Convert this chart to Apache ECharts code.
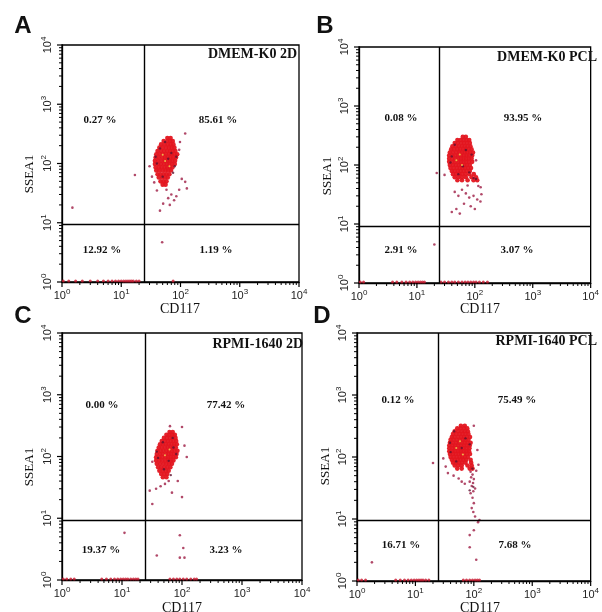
<!DOCTYPE html>
<html><head><meta charset="utf-8">
<script src="https://cdn.jsdelivr.net/npm/echarts@6/dist/echarts.min.js"></script>
<style>html,body{margin:0;padding:0;background:#fff}#c{width:602px;height:612px}</style>
</head><body><div id="c"></div>
<script>
// ---------------- data ----------------
const panelLetters = ['A', 'B', 'C', 'D'];
const panelTitles = ['DMEM-K0 2D', 'DMEM-K0 PCL', 'RPMI-1640 2D', 'RPMI-1640 PCL'];
const xAxisName = 'CD117';
const yAxisName = 'SSEA1';
const majorTicks = [1, 10, 100, 1000, 10000];

// quadrant percentages: [upper-left, upper-right, lower-left, lower-right]
const quadPctA = ['0.27 %', '85.61 %', '12.92 %', '1.19 %'];
const quadPctB = ['0.08 %', '93.95 %', '2.91 %', '3.07 %'];
const quadPctC = ['0.00 %', '77.42 %', '19.37 %', '3.23 %'];
const quadPctD = ['0.12 %', '75.49 %', '16.71 %', '7.68 %'];

// quadrant gates [CD117, SSEA1]
const gateA = [24.2, 9.5];
const gateB = [24.4, 9.0];
const gateC = [24.2, 9.4];
const gateD = [24.8, 9.6];

// dense event clusters: rows of [SSEA1 value, [CD117 values]]
const clusterA = [
  [270, [60, 68]], [240, [52, 60, 67, 74]], [210, [47, 54, 61, 68, 76]],
  [185, [44, 50, 57, 64, 71, 79]], [162, [41, 47, 53, 60, 67, 74, 82]],
  [143, [39, 45, 51, 57, 64, 71, 79, 88]], [126, [38, 43, 49, 55, 61, 68, 75, 84]],
  [111, [37, 42, 48, 54, 60, 66, 73, 81]], [98, [37, 42, 47, 53, 59, 65, 72, 80]],
  [86, [38, 43, 48, 54, 60, 66, 73]], [76, [39, 44, 50, 56, 62, 69]],
  [66, [41, 46, 52, 58, 65]], [58, [43, 49, 55, 61]], [50, [46, 52, 58]], [44, [50, 56]]
];
const clusterB = [
  [300, [62, 70]], [265, [50, 57, 64, 72, 80]], [235, [45, 51, 58, 65, 73, 82]],
  [208, [41, 47, 53, 60, 67, 75, 84]], [184, [39, 44, 50, 56, 63, 70, 78, 88]],
  [163, [37, 42, 48, 54, 60, 67, 74, 83, 93]], [145, [36, 41, 46, 52, 58, 65, 72, 80, 90]],
  [128, [36, 41, 46, 52, 58, 64, 71, 79, 88]], [113, [36, 41, 46, 52, 58, 64, 71, 79, 90]],
  [100, [37, 42, 47, 53, 59, 66, 73, 82]], [89, [38, 43, 49, 55, 61, 68, 76, 86]],
  [79, [40, 45, 51, 57, 64, 72, 82]], [70, [42, 48, 54, 61, 69, 80, 96]],
  [62, [45, 52, 60, 70, 88, 105]], [55, [50, 60, 75, 95, 110]]
];
const clusterC = [
  [250, [62, 70]], [225, [55, 62, 69, 76]], [200, [50, 56, 63, 70, 78]],
  [178, [46, 52, 58, 65, 72, 80]], [158, [43, 48, 54, 60, 67, 74, 82]],
  [140, [41, 46, 52, 58, 64, 71, 79]], [124, [39, 44, 49, 55, 61, 68, 75, 84]],
  [110, [38, 43, 48, 54, 60, 66, 73, 81]], [97, [37, 42, 47, 53, 59, 65, 72, 79]],
  [86, [37, 42, 47, 53, 59, 65, 72]], [76, [38, 43, 49, 55, 61, 68]],
  [67, [40, 45, 51, 57, 64]], [59, [42, 48, 54, 60]], [52, [45, 51, 57]], [46, [48, 55]]
];
const clusterD = [
  [320, [60, 70]], [290, [52, 60, 68, 77]], [260, [47, 54, 62, 70, 79]],
  [234, [44, 50, 57, 64, 72, 81]], [210, [42, 47, 54, 61, 68, 76, 86]],
  [189, [40, 45, 51, 58, 65, 72, 81]], [170, [39, 44, 50, 56, 63, 70, 78, 88]],
  [153, [38, 43, 48, 54, 61, 68, 76, 85]], [138, [38, 43, 48, 54, 60, 67, 75, 84]],
  [124, [38, 43, 48, 54, 60, 67, 75, 83]], [112, [39, 44, 49, 55, 61, 68, 76, 86]],
  [100, [40, 45, 51, 57, 63, 70, 79]], [90, [42, 47, 53, 59, 66, 74, 88]],
  [81, [44, 50, 56, 63, 72, 90]], [73, [47, 54, 62, 78, 92]], [65, [52, 62, 85, 95]]
];

// sparse events [CD117, SSEA1]
const outliersA = [[120, 320], [120, 49], [128, 38], [51, 21], [45, 16], [66, 20], [17, 64], [1.5, 18],
  [49, 4.7], [33, 60], [36, 48], [40, 35], [58, 36], [70, 30], [62, 26], [78, 24], [95, 36], [105, 55],
  [98, 230], [30, 90], [95, 170], [85, 28]];
const outliersB = [[30, 68], [22, 73], [126, 42], [115, 44], [45, 35], [52, 30], [60, 38], [70, 33],
  [80, 28], [95, 30], [110, 26], [125, 24], [65, 22], [85, 20], [100, 18], [48, 18], [40, 16], [55, 15],
  [75, 45], [130, 32], [105, 120], [20, 4.5]];
const outliersC = [[100, 300], [63, 310], [120, 98], [32, 82], [29, 28], [37, 30], [44, 33], [52, 36],
  [68, 26], [100, 22], [32, 17], [11, 5.8], [92, 5.3], [105, 3.3], [92, 2.3], [110, 2.3], [38, 2.5],
  [110, 150], [85, 40], [60, 40]];
const outliersD = [[30, 95], [33, 70], [36, 55], [45, 50], [55, 45], [62, 40], [70, 37], [110, 60],
  [120, 75], [115, 130], [100, 320], [20, 80], [118, 8.9], [85, 5.5], [85, 3.5], [100, 6.6],
  [110, 2.2], [125, 9.6], [1.8, 2], [88, 58], [95, 52], [90, 47], [100, 44], [85, 40], [97, 38],
  [92, 34], [105, 31], [98, 28], [88, 26], [95, 22], [100, 18], [92, 15], [98, 13], [105, 11]];

// darker / pale specks inside the clusters [CD117, SSEA1]
const specksA = [[40, 100], [70, 150], [50, 60], [80, 90], [45, 180], [62, 120], [75, 70], [38, 130], [55, 230], [85, 130]];
const specksB = [[38, 110], [70, 180], [52, 70], [88, 150], [45, 220], [62, 95], [95, 60], [40, 140], [105, 58], [80, 75]];
const specksC = [[40, 95], [72, 140], [50, 62], [80, 110], [48, 170], [60, 85], [70, 200], [38, 120], [65, 50]];
const specksD = [[40, 120], [72, 200], [50, 85], [85, 160], [46, 260], [62, 140], [95, 65], [39, 170], [98, 33], [85, 29]];
const highlightA = [[55, 110], [65, 90], [50, 140]];
const highlightB = [[48, 120], [60, 100], [55, 150]];
const highlightC = [[52, 105], [62, 130]];
const highlightD = [[50, 140], [65, 110], [58, 180]];

// events piled up on the lower axis (SSEA1 at minimum): CD117 values
const baselineA = [1.05, 1.3, 1.7, 2.2, 3, 4, 5, 6, 7, 8, 9, 10, 11, 12, 13, 14, 15, 16, 18, 20, 75];
const baselineB = [1.05, 1.2, 3.8, 4.5, 5.5, 6.5, 7.5, 8.5, 9.5, 10.5, 11.5, 12.5, 13.5, 26, 30, 35, 40, 45, 52, 60, 68, 76, 85, 95, 105, 120, 140, 165];
const baselineC = [1.05, 1.2, 1.4, 1.6, 4.6, 5.5, 6.5, 7.5, 8.5, 9.5, 10.5, 11.5, 12.5, 14, 15.5, 17, 18.5, 63, 72, 82, 92, 105, 120, 140, 160, 175];
const baselineD = [1.05, 1.2, 1.4, 4.6, 5.5, 6.5, 7.5, 8.5, 9.5, 10.5, 11.5, 12.5, 13.5, 15, 17, 66, 75, 85, 95, 105, 115, 125];

// ---------------- layout ----------------
const layout = {
  grids: [
    { left: 62, top: 45, width: 237, height: 237 },
    { left: 359, top: 47, width: 240, height: 236 },
    { left: 62, top: 333, width: 240, height: 247 },
    { left: 357, top: 333, width: 241, height: 248 }
  ],
  letters: [[23, 26], [325, 26], [23, 316], [322, 316]],
  titles: [[297, 54], [597, 57], [303, 344], [597, 341]],
  pct: [
    [[100, 120], [218, 120], [102, 250], [216, 250]],
    [[401, 118], [523, 118], [401, 250], [517, 250]],
    [[102, 405], [226, 405], [101, 550], [226, 550]],
    [[398, 400], [517, 400], [401, 545], [515, 545]]
  ],
  xName: [[180, 309], [480, 309], [182, 608], [480, 608]],
  yName: [[30, 174], [328, 176], [30, 467], [326, 466]]
};

const panels = [
  { pct: quadPctA, gate: gateA, cluster: clusterA, outliers: outliersA, specks: specksA, hi: highlightA, base: baselineA },
  { pct: quadPctB, gate: gateB, cluster: clusterB, outliers: outliersB, specks: specksB, hi: highlightB, base: baselineB },
  { pct: quadPctC, gate: gateC, cluster: clusterC, outliers: outliersC, specks: specksC, hi: highlightC, base: baselineC },
  { pct: quadPctD, gate: gateD, cluster: clusterD, outliers: outliersD, specks: specksD, hi: highlightD, base: baselineD }
];

// axis tick values (decades and their 2..9 subdivisions), flagged major / minor
const tickMarks = majorTicks.map(v => [v, 1]);
[1, 10, 100, 1000].forEach(d => { for (let k = 2; k <= 9; k++) tickMarks.push([k * d, 0]); });

const labelRich = {
  b: { fontSize: 11, fontFamily: 'Liberation Sans', color: '#222', lineHeight: 16 },
  s: { fontSize: 8, fontFamily: 'Liberation Sans', color: '#222', lineHeight: 9, verticalAlign: 'top' }
};
const fmt = v => '{b|10}{s|' + Math.round(Math.log10(v)) + '}';

const xAxes = [], yAxes = [], series = [], graphics = [];
panels.forEach((p, i) => {
  const common = { type: 'log', logBase: 10, min: 1, max: 10000, gridIndex: i, splitLine: { show: false } };
  xAxes.push(Object.assign({}, common, {
    position: 'bottom',
    axisLine: { show: true, lineStyle: { color: '#000', width: 1.3 } },
    axisTick: { show: false },
    axisLabel: { show: true, margin: 6, formatter: fmt, rich: labelRich, showMinLabel: true, showMaxLabel: true }
  }));
  yAxes.push(Object.assign({}, common, {
    position: 'left',
    axisLine: { show: true, lineStyle: { color: '#000', width: 1.3 } },
    axisTick: { show: false },
    axisLabel: { show: true, margin: 6, rotate: 90, formatter: fmt, rich: labelRich, showMinLabel: true, showMaxLabel: true }
  }));

  const ax = { xAxisIndex: i, yAxisIndex: i, clip: false, silent: true, animation: false };

  // tick marks drawn through the axes' own log scale
  series.push(Object.assign({}, ax, {
    type: 'custom', data: tickMarks, z: 5,
    renderItem: (params, api) => {
      const v = api.value(0), major = api.value(1) === 1;
      const len = major ? 5 : 3;
      const px = api.coord([v, 1]);
      const py = api.coord([1, v]);
      return { type: 'group', children: [
        { type: 'line', shape: { x1: px[0], y1: px[1], x2: px[0], y2: px[1] + len }, style: { stroke: '#000', lineWidth: major ? 1.2 : 1 } },
        { type: 'line', shape: { x1: py[0], y1: py[1], x2: py[0] - len, y2: py[1] }, style: { stroke: '#000', lineWidth: major ? 1.2 : 1 } }
      ] };
    }
  }));

  const body = [];
  p.cluster.forEach(([y, xs]) => xs.forEach(x => body.push([x, y])));
  series.push(Object.assign({}, ax, {
    type: 'scatter', data: p.outliers, symbolSize: 2.6,
    itemStyle: { color: '#a3294f', opacity: 0.85 }
  }));
  series.push(Object.assign({}, ax, {
    type: 'scatter', data: body, symbolSize: 4.6,
    itemStyle: { color: '#e3151f', opacity: 0.95 },
    markLine: {
      silent: true, symbol: ['none', 'none'], animation: false,
      label: { show: false },
      lineStyle: { color: '#000', width: 1.4, type: 'solid' },
      data: [{ xAxis: p.gate[0] }, { yAxis: p.gate[1] }]
    }
  }));
  series.push(Object.assign({}, ax, {
    type: 'scatter', data: p.specks, symbolSize: 2.4,
    itemStyle: { color: '#5e1230' }
  }));
  series.push(Object.assign({}, ax, {
    type: 'scatter', data: p.hi, symbolSize: 2,
    itemStyle: { color: '#f1dc55' }
  }));
  series.push(Object.assign({}, ax, {
    type: 'scatter', data: p.base.map(x => [x, 1.04]), symbolSize: 3,
    itemStyle: { color: '#c8182e', opacity: 0.8 }
  }));

  // texts
  const [lx, ly] = layout.letters[i];
  graphics.push({ type: 'text', x: lx, y: ly, silent: true,
    style: { text: panelLetters[i], font: 'bold 24px "Liberation Sans"', fill: '#111', align: 'center', verticalAlign: 'middle' } });
  const [tx, ty] = layout.titles[i];
  graphics.push({ type: 'text', x: tx, y: ty, silent: true,
    style: { text: panelTitles[i], font: 'bold 14px "Liberation Serif"', fill: '#111', align: 'right', verticalAlign: 'middle' } });
  p.pct.forEach((t, q) => {
    const [px, py] = layout.pct[i][q];
    graphics.push({ type: 'text', x: px, y: py, silent: true,
      style: { text: t, font: 'bold 11px "Liberation Serif"', fill: '#111', align: 'center', verticalAlign: 'middle' } });
  });
  const [nx, ny] = layout.xName[i];
  graphics.push({ type: 'text', x: nx, y: ny, silent: true,
    style: { text: xAxisName, font: '14px "Liberation Serif"', fill: '#111', align: 'center', verticalAlign: 'middle' } });
  const [mx, my] = layout.yName[i];
  graphics.push({ type: 'text', x: mx, y: my, rotation: Math.PI / 2, silent: true,
    style: { text: yAxisName, font: '13px "Liberation Serif"', fill: '#111', align: 'center', verticalAlign: 'middle' } });
});

const chart = echarts.init(document.getElementById('c'), null, { renderer: 'canvas' });
chart.setOption({
  backgroundColor: '#fff',
  animation: false,
  grid: layout.grids.map(g => Object.assign({ show: true, borderColor: '#000', borderWidth: 1.3, backgroundColor: 'transparent', containLabel: false }, g)),
  xAxis: xAxes,
  yAxis: yAxes,
  series: series,
  graphic: graphics
});
</script></body></html>
